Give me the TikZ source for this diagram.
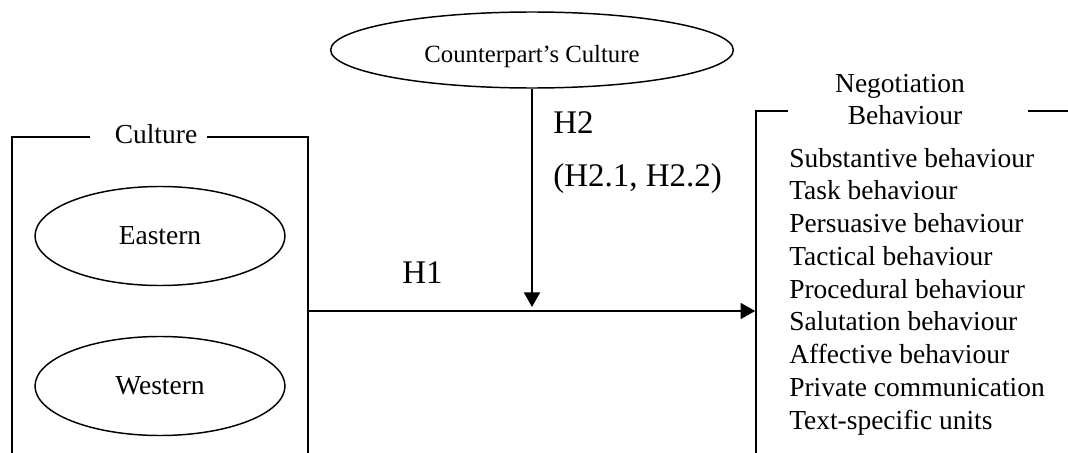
\documentclass[tikz,border=0pt]{standalone}
\usepackage{fontspec}
\setmainfont{Liberation Serif}
\usetikzlibrary{shapes.geometric,arrows.meta}
\begin{document}
\begin{tikzpicture}[x=0.75pt,y=-0.75pt,
  boxline/.style={line width=1.4pt},
  oval/.style={draw,ellipse,line width=1.1pt,inner sep=0pt},
  main/.style={font=\fontsize{20.6}{24.7}\selectfont,inner sep=0pt},
  hyp/.style={font=\fontsize{24.75}{29.7}\selectfont,inner sep=0pt,anchor=base west},
  conn/.style={line width=1.4pt,-{Triangle[length=11pt,width=12pt]}}]
\useasboundingbox (0,0) rectangle (1068,453);
% top ellipse
\node[oval,minimum width=302pt,minimum height=57pt,
      font=\fontsize{18.56}{22}\selectfont,text height=19.5pt,text depth=0pt]
      (cc) at (532,50) {Counterpart’s Culture};
% culture box
\node[main,anchor=base] (culture) at (156,143) {Culture};
\draw[boxline] (90,137) -- (12,137) -- (12,453);
\draw[boxline] (207,137) -- (308,137) -- (308,453);
\node[oval,main,minimum width=187.5pt,minimum height=74.25pt] (east) at (160,236) {Eastern};
\node[oval,main,minimum width=187.5pt,minimum height=74.25pt] (west) at (160,386) {Western};
% negotiation box
\node[main,anchor=base] (neg1) at (900,93) {Negotiation};
\node[main,anchor=base] (neg2) at (905,124) {Behaviour};
\draw[boxline] (788,111) -- (756,111) -- (756,453);
\draw[boxline] (1028,111) -- (1068,111);
\foreach \t [count=\i] in {Substantive behaviour,Task behaviour,Persuasive behaviour,
  Tactical behaviour,Procedural behaviour,Salutation behaviour,Affective behaviour,
  Private communication,Text-specific units}
  \node[main,anchor=base west] (item\i) at (789,{167+(\i-1)*32.75}) {\t};
% hypotheses
\node[hyp] (h2) at (553,133) {H2};
\node[hyp] (h2sub) at (553,186) {(H2.1, H2.2)};
\node[hyp] (h1) at (402,283) {H1};
% connectors
\coordinate (cr) at (308,311);
\coordinate (nl) at (756,311);
\coordinate (join) at (532,311);
\draw[conn,shorten >=0.6pt] (cr) -- (nl);
\draw[conn,shorten >=3pt] (cc.south) -- (join);
\end{tikzpicture}
\end{document}
